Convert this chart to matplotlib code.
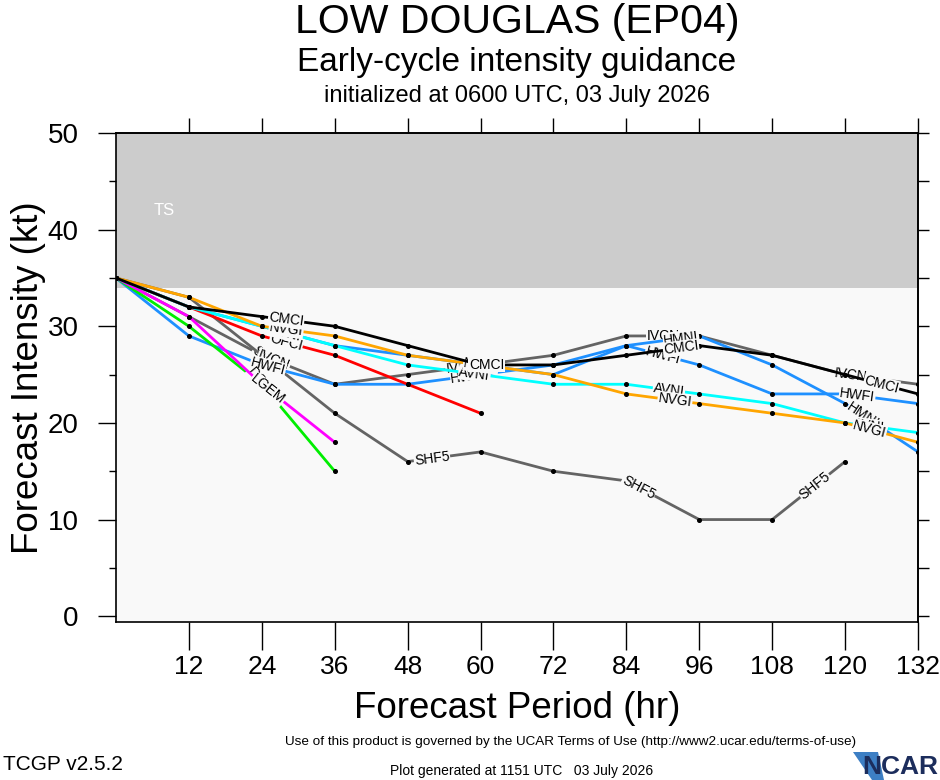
import numpy as np
import matplotlib
matplotlib.use("Agg")
import matplotlib.pyplot as plt
from matplotlib.patches import Polygon

# forecast hours
hours = [0, 12, 24, 36, 48, 60, 72, 84, 96, 108, 120, 132]

# intensity (kt) per model
cmci = [35, 32, 31, 30, 28, 26, 26, 27, 28, 27, 25, 23]
ivcn = [35, 33, 27, 24, 25, 26, 27, 29, 29, 27, 25, 24]
hwfi = [35, 29, 26, 24, 24, 25, 26, 28, 26, 23, 23, 22]
hmni = [35, 32, 30, 28, 27, 26, 25, 28, 29, 26, 22, 17]
avni = [35, 32, 30, 28, 26, 25, 24, 24, 23, 22, 20, 19]
nvgi = [35, 33, 30, 29, 27, 26, 25, 23, 22, 21, 20, 18]
ofci = [35, 32, 29, 27, 24, 21]
shf5 = [35, 31, 27, 21, 16, 17, 15, 14, 10, 10, 16]
dshp = [35, 30, 24, 15]
lgem = [35, 31, 24, 18]

# where the line labels sit (hours along each line)
label_hours = {
    "SHF5": [25, 52, 86, 115],
    "IVCN": [26, 57, 90, 121],
    "HWFI": [25, 58, 90, 122],
    "HMNI": [28, 60, 93, 123],
    "OFCI": [28],
    "DSHP": [24],
    "LGEM": [25],
    "AVNI": [28, 59, 91, 124],
    "NVGI": [28, 60, 92, 124],
    "CMCI": [28, 61, 93, 126],
}

models = [
    ("SHF5", shf5, "#646464"),
    ("IVCN", ivcn, "#646464"),
    ("HWFI", hwfi, "#1e90ff"),
    ("HMNI", hmni, "#1e90ff"),
    ("OFCI", ofci, "#ff0000"),
    ("DSHP", dshp, "#00ee00"),
    ("LGEM", lgem, "#ff00ff"),
    ("AVNI", avni, "#00ffff"),
    ("NVGI", nvgi, "#ffa500"),
    ("CMCI", cmci, "#000000"),
]

plt.rcParams["font.family"] = ["Liberation Sans", "DejaVu Sans"]

BG = "#f9f9f9"
W, H = 940, 780
fig = plt.figure(figsize=(W / 100, H / 100), dpi=100)
left, right, top, bottom = 116, 918, 133, 622
ax = fig.add_axes([left / W, 1 - bottom / H, (right - left) / W, (bottom - top) / H])
ax.set_xlim(0, 132)
ax.set_ylim(-0.6, 50)
ax.set_facecolor(BG)
ax.axhspan(34, 50, color="#cccccc", lw=0, zorder=0)
ax.text(8, 42, "TS", color="white", fontsize=12, ha="center", va="center")

# ticks
ax.set_xticks(hours[1:])
ax.tick_params(axis="x", direction="out", length=20, width=1, labelsize=19, pad=4)
ax.set_yticks(range(0, 51, 10))
ax.set_yticks(range(5, 50, 10), minor=True)
ax.tick_params(axis="y", which="major", direction="out", length=13, width=1,
               labelsize=20, pad=14)
ax.tick_params(axis="y", which="minor", direction="out", length=5, width=1)
top_ax = ax.secondary_xaxis("top")
top_ax.set_xticks(hours[1:])
top_ax.tick_params(direction="out", length=11, width=1, labeltop=False)
right_ax = ax.secondary_yaxis("right")
right_ax.set_yticks(range(0, 51, 5))
right_ax.tick_params(direction="out", length=8, width=1, labelright=False)
for sp in list(ax.spines.values()) + list(top_ax.spines.values()) + list(right_ax.spines.values()):
    sp.set_linewidth(1.2)

ax.set_xlabel("Forecast Period (hr)", fontsize=26.5)
ax.xaxis.set_label_coords(0.5, -(708 - bottom) / (bottom - top), transform=ax.transAxes)
ax.set_ylabel("Forecast Intensity (kt)", fontsize=26.5)
ax.yaxis.set_label_coords(-(left - 28) / (right - left), 0.5, transform=ax.transAxes)
ax.xaxis.label.set_va("center")
ax.yaxis.label.set_va("center")

# model lines, dots and labels
for i, (name, vals, color) in enumerate(models):
    hrs = hours[:len(vals)]
    z = 3 + i
    ax.plot(hrs, vals, color=color, lw=2.0, zorder=z, solid_capstyle="butt")
    ax.plot(hrs, vals, "o", color="black", ms=2.6, zorder=z + 0.2)
    for at in label_hours[name]:
        seg = min(np.searchsorted(hrs, at, side="right") - 1, len(hrs) - 2)
        p0 = ax.transData.transform((hrs[seg], vals[seg]))
        p1 = ax.transData.transform((hrs[seg + 1], vals[seg + 1]))
        ang = np.degrees(np.arctan2(p1[1] - p0[1], p1[0] - p0[0]))
        y = np.interp(at, hrs, vals)
        ax.text(at, y, name, rotation=ang, rotation_mode="anchor", ha="center",
                va="center", fontsize=10, zorder=z + 0.5,
                bbox=dict(fc=BG, ec="none", pad=0.4))

# titles
cx = (left + right) / 2 / W
fig.text(cx, 1 - 22 / H, "LOW DOUGLAS (EP04)", fontsize=29.5, ha="center", va="center")
fig.text(cx, 1 - 62 / H, "Early-cycle intensity guidance", fontsize=24, ha="center", va="center")
fig.text(cx, 1 - 96 / H, "initialized at 0600 UTC, 03 July 2026", fontsize=17,
         ha="center", va="center")

# footer
fig.text(571 / W, 1 - 742 / H,
         "Use of this product is governed by the UCAR Terms of Use (http://www2.ucar.edu/terms-of-use)",
         fontsize=9.7, ha="center", va="center")
fig.text(3 / W, 1 - 765 / H, "TCGP v2.5.2", fontsize=15, ha="left", va="center")
fig.text(522 / W, 1 - 771 / H, "Plot generated at 1151 UTC   03 July 2026", fontsize=10,
         ha="center", va="center")

# NCAR logo
fig.patches.append(Polygon([(853 / W, 1 - 752 / H), (878 / W, 1 - 752 / H), (884 / W, 1 - 780 / H),
                            (872 / W, 1 - 780 / H)], closed=True, transform=fig.transFigure,
                           fc="#3d7fc4", ec="none"))
fig.text(938 / W, 1 - 767 / H, "NCAR", fontsize=19, ha="right", va="center",
         color="#1c2d5c", weight="bold")

fig.savefig("out.png", dpi=100)
